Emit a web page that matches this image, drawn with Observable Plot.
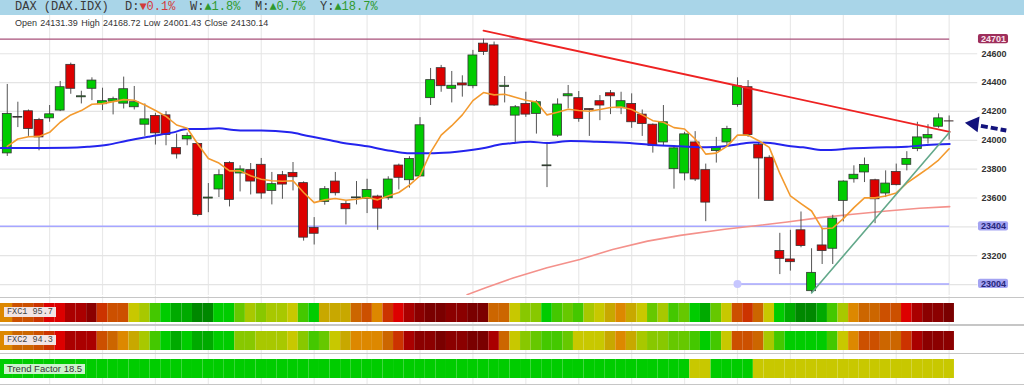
<!DOCTYPE html>
<html><head><meta charset="utf-8">
<script src="https://cdn.jsdelivr.net/npm/d3@7"></script>
<script src="https://cdn.jsdelivr.net/npm/@observablehq/plot@0.6"></script>
<style>
html,body{margin:0;padding:0;background:#fff;}
body{width:1024px;height:385px;overflow:hidden;position:relative;font-family:"Liberation Sans",Arial,sans-serif;}
#hdr{position:absolute;left:0;top:0;width:1024px;height:15px;background:#a9d5e8;font-family:"Liberation Mono","DejaVu Sans Mono",monospace;font-size:12px;line-height:15px;color:#3a3a3a;z-index:3}
#hdr span{position:absolute;top:0;white-space:pre}
.dn{color:#d23c3c}.up{color:#2f9a2f}
#ohlc{position:absolute;left:15px;top:18px;font-size:9px;line-height:10px;color:#333;word-spacing:0.8px;white-space:pre;z-index:3}
#main{position:absolute;left:0;top:0}
#heat{position:absolute;left:0;top:296px}
.sep{position:absolute;left:0;width:1024px;height:1.5px;background:#c6c6c6;z-index:2}
.lbl{position:absolute;left:4px;height:10px;line-height:10px;font-size:8.5px;padding:0 3px;z-index:3;white-space:pre}
.mono{font-family:"Liberation Mono","DejaVu Sans Mono",monospace;background:#f2e4e4;color:#444}
.tf{background:#ccf3cc;color:#333;font-size:9.5px}
</style></head>
<body>
<div id="hdr"><span style="left:15px">DAX (DAX.IDX)</span><span style="left:125px">D:<span class="dn" style="position:static">▼0.1%</span></span><span style="left:190px">W:<span class="up" style="position:static">▲1.8%</span></span><span style="left:255px">M:<span class="up" style="position:static">▲0.7%</span></span><span style="left:320px">Y:<span class="up" style="position:static">▲18.7%</span></span></div>
<div id="ohlc">Open 24131.39 High 24168.72 Low 24001.43 Close 24130.14</div>
<div id="main"></div>
<div id="heat"></div>
<div class="sep" style="top:296.5px"></div>
<div class="sep" style="top:324px"></div>
<div class="sep" style="top:352.5px"></div>
<div class="sep" style="top:383.5px"></div>
<div class="lbl mono" style="top:307px">FXC1 95.7</div>
<div class="lbl mono" style="top:335px">FXC2 94.3</div>
<div class="lbl tf" style="top:364px">Trend Factor 18.5</div>
<script>
// ---------- data ----------
const opens = [23909,24162,24201,24141,24152,24206,24523,24298,24357,24250,
  24268,24254,24229,24108,24169,24173,23946,24006,23974,23596,
  23659,23842,23770,23793,23830,23649,23758,23774,23703,23392,
  23573,23714,23559,23598,23594,23610,23598,23825,23723,23749,
  24292,24500,24357,24394,24375,24670,24658,24370,24171,24252,
  24183,23820,24032,24305,24292,24216,24271,24326,24222,24252,
  24178,24108,23985,23800,23770,23985,23793,23925,23985,24245,
  24368,23967,23879,23232,23174,23376,22954,23271,23248,23580,
  23730,23777,23723,23631,23781,23830,23939,24013,24094,24131.39];
const highs = [24387,24264,24210,24152,24241,24408,24535,24340,24433,24361,
  24299,24438,24373,24252,24187,24199,24043,24050,23984,23700,
  23795,23851,23823,23839,23874,23777,23784,23846,23712,23464,
  23679,23777,23580,23714,23730,23619,23747,23835,23886,24157,
  24498,24519,24477,24447,24623,24701,24681,24442,24241,24333,
  24275,23985,24287,24380,24338,24217,24310,24345,24333,24322,
  24210,24113,24241,23962,24055,24060,23835,24020,24097,24433,
  24414,23978,23893,23355,23376,23503,23248,23390,23480,23719,
  23823,23877,23730,23788,23835,23921,24125,24108,24183,24168.72];
const lows = [23888,24088,24027,23927,24125,24199,24319,24252,24275,24206,
  24176,24217,24210,24027,23967,23962,23870,23962,23470,23498,
  23603,23538,23642,23621,23591,23552,23591,23649,23301,23274,
  23550,23614,23413,23552,23492,23376,23584,23656,23668,23747,
  24241,24333,24259,24299,24357,24588,24236,24259,23985,24159,
  24043,23672,24020,24217,24125,24027,24136,24178,24178,24083,
  24027,23911,23962,23661,23719,23714,23436,23842,23951,24229,
  24020,23591,23580,23069,23093,23255,22942,23139,23139,23434,
  23703,23707,23422,23603,23684,23788,23921,23974,24083,24001.43];
const closes = [24183,24157,24078,24020,24180,24368,24357,24305,24414,24271,
  24285,24354,24264,24145,24048,24036,23902,24030,23482,23603,
  23758,23587,23798,23714,23631,23696,23693,23744,23325,23352,
  23661,23633,23522,23604,23656,23526,23728,23740,23870,24104,
  24417,24375,24378,24380,24588,24612,24241,24378,24229,24178,
  24264,23826,24248,24319,24148,24210,24241,24305,24271,24125,
  24113,23962,24125,23944,24041,23728,23568,23951,24078,24375,
  24036,23874,23580,23178,23155,23267,23081,23232,23457,23714,
  23761,23828,23591,23700,23689,23870,24020,24036,24152,24130.14];
// short moving average (orange), one value per candle
const maShort = [23958,24009,24025,24027,24055,24125,24176,24206,24250,24254,
  24268,24282,24278,24245,24206,24166,24106,24083,23974,23874,
  23842,23788,23788,23754,23730,23719,23716,23719,23638,23568,
  23587,23596,23584,23591,23603,23587,23614,23638,23689,23754,
  23916,24036,24101,24176,24275,24331,24315,24319,24299,24278,
  24266,24176,24194,24215,24206,24201,24213,24227,24231,24213,
  24176,24136,24125,24088,24078,24009,23904,23911,23958,24036,
  24036,23997,23951,23770,23614,23561,23510,23387,23392,23457,
  23533,23601,23601,23614,23635,23703,23754,23805,23863,23941];
// medium moving average (blue), sampled points
const maMidIdx = [-0.64,2.5,5.7,7.6,9.5,11.3,13.5,15.7,17,18.2,20,21.4,22.5,24,26.7,28.3,29.9,31.5,34,36.2,37.8,40.3,42.5,45.2,46.3,47.8,49.4,51,53.2,55.7,58.8,61,63.6,66.1,67.8,69.2,70.5,72.1,73.7,75.2,77.1,80,83.1,85,86.9,89.05];
const maMidVal = [23946,23946,23948,23955,23969,23997,24027,24055,24078,24078,24083,24071,24067,24067,24055,24032,24009,23985,23958,23927,23911,23911,23921,23948,23967,23981,23990,23981,23995,23990,23981,23967,23958,23951,23958,23974,23985,23981,23962,23951,23932,23944,23951,23955,23967,23974];
// long moving average (pink), sampled points
const maLongIdx = [43.45,45.2,47.8,51,54.1,57.2,60.5,63.6,67.8,70.5,73.7,76.8,79.9,83.1,86.2,89.05];
const maLongVal = [22930,22977,23046,23116,23174,23243,23301,23341,23383,23406,23434,23464,23487,23510,23529,23540];
// trend lines
const resistIdx = [45, 89.05], resistVal = [24760, 24059];
const supportIdx = [76, 89.05], supportVal = [22942, 24057];
// level lines
const levelHigh = 24701, levelMid = 23404, levelLow = 23004, levelLowStart = 69;
const yTicks = [24600,24400,24200,24000,23800,23600,23200];
const gridPrices = [24600,24400,24200,24000,23800,23600,23400,23200,23000];
const vGridIdx = [4,9,14,19,24,29,34,39,44,49,54,59,64,69,74,79,84,89];
// arrow annotation (candle-index / price units)
const arrowHead = {i: 91.35, p: 24114};
const arrowTail = {i1: 92.0, p1: 24100, i2: 94.4, p2: 24068};
// heat rows (indicator levels 0 = deep red ... 16 = deep green)
const fxc1 = [7,5,5,4,3,3,2,2,1,4, 5,5,9,10,13,14,15,15,16,16, 14,14,12,10,11,10,10,9,13,14,
  8,8,8,6,5,7,4,3,2,1, 0,0,1,1,0,0,6,6,9,11, 11,14,13,12,13,10,9,8,7,8,
  9,12,10,13,12,14,15,12,9,5, 4,6,9,14,15,16,16,15,13,10, 7,6,6,5,5,3,2,1,1,0];
const fxc2 = [7,6,6,5,4,3,2,2,2,5, 6,7,8,10,13,14,15,14,15,15, 14,14,11,11,10,10,10,9,11,13,
  12,9,8,7,7,7,6,4,2,1, 1,0,1,1,0,0,2,6,9,11, 12,13,13,12,9,9,9,8,7,8,
  10,11,11,12,12,13,14,13,9,5, 5,6,10,13,14,14,14,14,13,9, 7,5,5,6,6,4,2,1,1,1];
const trendF = [14,14,14,14,14,14,14,14,14,14, 14,14,14,14,14,14,14,14,14,14, 14,14,14,14,14,14,14,14,14,14,
  14,14,14,14,14,14,14,14,14,14, 14,14,14,14,14,14,14,14,14,14, 14,14,14,14,14,14,14,14,14,14,
  14,14,14,14,14,9,9,14,14,14, 14,9,9,9,9,9,9,9,9,9, 9,9,9,9,9,9,9,9,9,9];
const palette = ["#7a0000","#8b0000","#aa0000","#dd0000","#cc3300","#cc5000","#cc6600","#dd8800","#c8a800",
  "#c8c800","#a8c800","#88c800","#66c800","#44c800","#00cc00","#00aa00","#008800"];

// ---------- build ----------
const X_DOM = [-0.64, 89.6];
const candles = opens.map((o, i) => ({i, o, h: highs[i], l: lows[i], c: closes[i]}));
const short = maShort.map((v, i) => ({i, v}));
const mid = maMidIdx.map((x, k) => ({i: x, v: maMidVal[k]}));
const long = maLongIdx.map((x, k) => ({i: x, v: maLongVal[k]}));
const resist = resistIdx.map((x, k) => ({i: x, v: resistVal[k]}));
const support = supportIdx.map((x, k) => ({i: x, v: supportVal[k]}));
const boxes = [
  {p: levelHigh, fill: "#9e2f5c", color: "#fbe3ec"},
  {p: levelMid, fill: "#a3a3f2", color: "#26267a"},
  {p: levelLow, fill: "#a3a3f2", color: "#26267a"}
];

const main = Plot.plot({
  width: 1024, height: 297,
  marginLeft: 0, marginRight: 69, marginTop: 14, marginBottom: 2,
  x: {domain: X_DOM, axis: null},
  y: {domain: [22924, 24872], axis: null},
  style: {background: "transparent", overflow: "visible", fontFamily: "Liberation Sans, Arial, sans-serif"},
  marks: [
    Plot.ruleX(vGridIdx, {stroke: "#e9e9e9", strokeWidth: 1.2}),
    Plot.ruleY(gridPrices, {x1: X_DOM[0], x2: 91.7, stroke: "#e4e4e4", strokeWidth: 1.2}),
    Plot.ruleY([levelHigh], {x1: X_DOM[0], x2: 89.05, stroke: "#a8507a", strokeWidth: 1.2}),
    Plot.ruleY([levelMid], {x1: X_DOM[0], x2: 89.05, stroke: "#a6a6ff", strokeWidth: 1.5}),
    Plot.ruleY([levelLow], {x1: levelLowStart, x2: 89.05, stroke: "#a6a6ff", strokeWidth: 1.5}),
    Plot.dot([{i: levelLowStart, p: levelLow}], {x: "i", y: "p", r: 4, fill: "#c6c6ff"}),
    Plot.line(long, {x: "i", y: "v", stroke: "#f4918b", strokeWidth: 1.6, clip: true}),
    Plot.ruleX(candles, {x: "i", y1: "l", y2: "h", stroke: "#555", strokeWidth: 1}),
    Plot.rect(candles, {x1: d => d.i - 0.42, x2: d => d.i + 0.42, y1: "o", y2: "c",
      fill: d => d.c >= d.o ? "#00cc00" : "#dd0000", stroke: "#333", strokeWidth: 0.8}),
    Plot.line(mid, {x: "i", y: "v", stroke: "#2424ee", strokeWidth: 2, curve: "monotone-x"}),
    Plot.line(short, {x: "i", y: "v", stroke: "#f39a2e", strokeWidth: 1.6}),
    Plot.line(resist, {x: "i", y: "v", stroke: "#ee2222", strokeWidth: 1.8}),
    Plot.line(support, {x: "i", y: "v", stroke: "#62a88a", strokeWidth: 1.6}),
    Plot.axisY(yTicks, {anchor: "right", tickSize: 0, tickPadding: 26, tickFormat: d3.format("d"),
      fontSize: 9, fontWeight: "bold", color: "#333"}),
    Plot.rect(boxes, {x1: 91.77, x2: 94.61, y1: d => d.p - 32, y2: d => d.p + 32, rx: 2, fill: d => d.fill}),
    Plot.text(boxes, {x: 93.19, y: "p", text: d => String(d.p), fill: d => d.color, fontSize: 9, fontWeight: "bold"}),
    Plot.link([arrowTail], {x1: "i1", y1: "p1", x2: "i2", y2: "p2", stroke: "#12127c", strokeWidth: 4, strokeDasharray: "7,3"}),
    Plot.dot([arrowHead], {x: "i", y: "p", symbol: "triangle2", r: 7.6, rotate: -83, fill: "#12127c"})
  ]
});
document.getElementById("main").appendChild(main);

const rows = ["FXC1", "FXC2", "TF"];
const cells = [];
fxc1.forEach((v, i) => cells.push({i, row: "FXC1", v}));
fxc2.forEach((v, i) => cells.push({i, row: "FXC2", v}));
trendF.forEach((v, i) => cells.push({i, row: "TF", v}));

const heat = Plot.plot({
  width: 1024, height: 89,
  marginLeft: 0, marginRight: 69, marginTop: 0, marginBottom: 0,
  x: {domain: X_DOM, axis: null},
  y: {domain: rows, axis: null, paddingInner: 0.325, paddingOuter: 0.238},
  color: {type: "ordinal", domain: d3.range(palette.length), range: palette},
  style: {background: "transparent", overflow: "visible"},
  marks: [
    Plot.ruleX(vGridIdx, {stroke: "#ececec", strokeWidth: 1.2}),
    Plot.barX(cells, {x1: d => d.i === 0 ? X_DOM[0] : d.i - 0.5, x2: d => d.i + 0.5, y: "row", fill: "v", inset: 0})
  ]
});
document.getElementById("heat").appendChild(heat);
</script>
</body></html>
